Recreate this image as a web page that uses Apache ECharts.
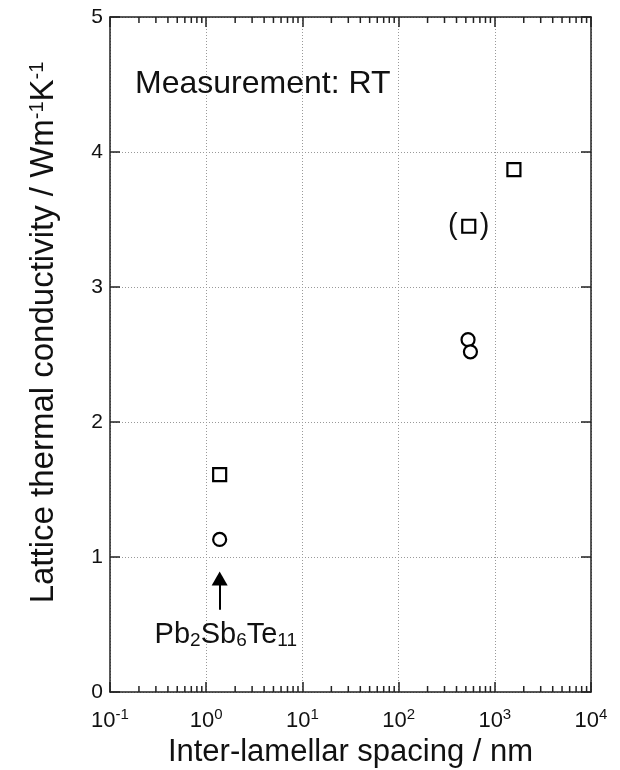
<!DOCTYPE html>
<html>
<head>
<meta charset="utf-8">
<script src="https://cdn.jsdelivr.net/npm/echarts@6/dist/echarts.min.js"></script>
<style>
  html, body { margin: 0; padding: 0; background: #fff; }
  #chart { width: 620px; height: 770px; }
</style>
</head>
<body>
<div id="chart"></div>
<script>
// spacing (nm) and lattice thermal conductivity (W m-1 K-1)
var squareX = [1.38, 536, 1580];
var squareY = [1.61, 3.45, 3.87];
var circleX = [1.38, 527, 558];
var circleY = [1.13, 2.61, 2.52];

// annotation anchors in data coordinates
var arrowX = 1.38;
var arrowFrom = 0.61;
var arrowTo = 0.84;
var labelPos = [1.6, 0.42];

var xMin = 0.1, xMax = 10000;
var yMin = 0, yMax = 5;

// minor ticks of the log axis: 2..9 times every decade
var decades = [0.1, 1, 10, 100, 1000];
var multipliers = [2, 3, 4, 5, 6, 7, 8, 9];
var minorTicks = [];
decades.forEach(function (d) {
    multipliers.forEach(function (m) {
        minorTicks.push([+(d * m).toPrecision(3), yMin]);
    });
});

var FONT = 'Liberation Sans, Arial, Helvetica, sans-serif';
var AXIS_COLOR = '#222';
var TEXT_COLOR = '#111';

function pairs(xs, ys) {
    return xs.map(function (x, i) { return [x, ys[i]]; });
}

var squareData = pairs(squareX, squareY).map(function (p, i) {
    var item = { value: p };
    // the middle square is put in brackets in the original
    if (i === 1) {
        item.label = {
            show: true,
            position: 'inside',
            formatter: '{p|(}{g|}{p|)}',
            rich: {
                p: { fontSize: 29, fontFamily: FONT, color: TEXT_COLOR },
                g: { width: 22 }
            }
        };
    }
    return item;
});

var markerStyle = {
    color: '#fff',
    borderColor: '#000',
    borderWidth: 2.2,
    opacity: 1
};

var xAxisBase = {
    type: 'log',
    logBase: 10,
    min: xMin,
    max: xMax,
    axisLine: { show: true, onZero: false, lineStyle: { color: AXIS_COLOR, width: 1.5 } },
    axisTick: { show: true, inside: true, length: 10, lineStyle: { color: AXIS_COLOR, width: 1.5 } },
    splitLine: { show: false },
    minorTick: { show: false },
    minorSplitLine: { show: false }
};

var yAxisBase = {
    type: 'value',
    min: yMin,
    max: yMax,
    interval: 1,
    axisLine: { show: true, onZero: false, lineStyle: { color: AXIS_COLOR, width: 1.5 } },
    axisTick: { show: true, inside: true, length: 10, lineStyle: { color: AXIS_COLOR, width: 1.5 } },
    splitLine: { show: false }
};

var option = {
    animation: false,
    backgroundColor: '#fff',
    textStyle: { fontFamily: FONT },
    title: {
        text: 'Measurement: RT',
        left: 130,
        top: 63,
        textStyle: { fontSize: 32, fontWeight: 'normal', color: TEXT_COLOR, fontFamily: FONT }
    },
    grid: { left: 110, right: 29, top: 17, bottom: 78, containLabel: false, outerBoundsMode: 'none' },
    xAxis: [
        Object.assign({}, xAxisBase, {
            position: 'bottom',
            name: 'Inter-lamellar spacing / nm',
            nameLocation: 'middle',
            nameGap: 37,
            nameTextStyle: { fontSize: 31, color: TEXT_COLOR, fontFamily: FONT },
            splitLine: { show: true, lineStyle: { color: '#999', width: 1, type: [1, 2] } },
            axisLabel: {
                margin: 15,
                color: TEXT_COLOR,
                formatter: function (v) {
                    var e = Math.round(Math.log(v) / Math.LN10);
                    return '{b|10}{s|' + e + '}';
                },
                rich: {
                    b: { fontSize: 22, fontFamily: FONT, color: TEXT_COLOR, lineHeight: 28 },
                    s: { fontSize: 15, fontFamily: FONT, color: TEXT_COLOR, verticalAlign: 'top', lineHeight: 15 }
                }
            }
        }),
        Object.assign({}, xAxisBase, {
            position: 'top',
            axisLabel: { show: false }
        })
    ],
    yAxis: [
        Object.assign({}, yAxisBase, {
            position: 'left',
            name: 'Lattice thermal conductivity / Wm{s|-1}K{s|-1}',
            nameLocation: 'middle',
            nameGap: 50,
            nameTextStyle: {
                fontSize: 33,
                color: TEXT_COLOR,
                fontFamily: FONT,
                padding: [0, 0, 0, 44],
                rich: {
                    s: { fontSize: 20, fontFamily: FONT, color: TEXT_COLOR, verticalAlign: 'top', lineHeight: 20 }
                }
            },
            splitLine: { show: true, lineStyle: { color: '#999', width: 1, type: [1, 2] } },
            axisLabel: { margin: 7, fontSize: 21, color: TEXT_COLOR, fontFamily: FONT }
        }),
        Object.assign({}, yAxisBase, {
            position: 'right',
            axisLabel: { show: false }
        })
    ],
    series: [
        {
            name: 'minor ticks',
            type: 'custom',
            xAxisIndex: 0,
            yAxisIndex: 0,
            silent: true,
            clip: false,
            data: minorTicks,
            encode: { x: 0, y: 1 },
            renderItem: function (params, api) {
                var x = api.value(0);
                var bottom = api.coord([x, yMin]);
                var top = api.coord([x, yMax]);
                var style = { stroke: AXIS_COLOR, lineWidth: 1.5 };
                return {
                    type: 'group',
                    children: [
                        { type: 'line', shape: { x1: bottom[0], y1: bottom[1], x2: bottom[0], y2: bottom[1] - 6 }, style: style },
                        { type: 'line', shape: { x1: top[0], y1: top[1], x2: top[0], y2: top[1] + 6 }, style: style }
                    ]
                };
            }
        },
        {
            name: 'square',
            type: 'scatter',
            symbol: 'rect',
            symbolSize: 13,
            itemStyle: markerStyle,
            data: squareData,
            z: 5
        },
        {
            name: 'circle',
            type: 'scatter',
            symbol: 'circle',
            symbolSize: 13,
            itemStyle: markerStyle,
            data: pairs(circleX, circleY),
            z: 5,
            markLine: {
                silent: true,
                symbol: ['none', 'triangle'],
                symbolSize: [16, 14],
                label: { show: false },
                lineStyle: { color: '#000', width: 2, type: 'solid', opacity: 1 },
                data: [[{ coord: [arrowX, arrowFrom] }, { coord: [arrowX, arrowTo] }]]
            }
        },
        {
            name: 'label',
            type: 'scatter',
            symbolSize: 0,
            silent: true,
            itemStyle: { opacity: 1 },
            data: [labelPos],
            label: {
                show: true,
                position: 'inside',
                formatter: 'Pb{d|2}Sb{d|6}Te{d|11}',
                fontSize: 29,
                color: TEXT_COLOR,
                fontFamily: FONT,
                rich: {
                    d: { fontSize: 19, fontFamily: FONT, color: TEXT_COLOR, verticalAlign: 'bottom', lineHeight: 19 }
                }
            }
        }
    ]
};

var chart = echarts.init(document.getElementById('chart'));
chart.setOption(option);
</script>
</body>
</html>
